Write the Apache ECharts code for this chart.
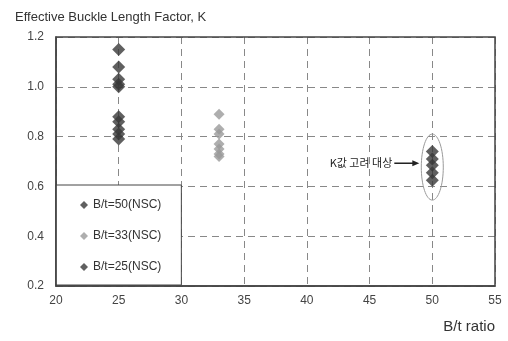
<!DOCTYPE html>
<html>
<head>
<meta charset="utf-8">
<script src="https://cdn.jsdelivr.net/npm/echarts@6/dist/echarts.min.js"></script>
<style>
  html, body { margin: 0; padding: 0; background: #fff; }
  #chart { width: 508px; height: 341px; }
</style>
</head>
<body>
<div id="chart"></div>
<script>
// B/t 별 유효좌굴길이계수 K
const bt50 = [0.74, 0.71, 0.685, 0.655, 0.625]
const bt33 = [0.89, 0.83, 0.81, 0.77, 0.75, 0.73, 0.72]
const bt25 = [1.15, 1.08, 1.03, 1.01, 1.0, 0.88, 0.86, 0.83, 0.81, 0.79]
const seriesNames = ['B/t=50(NSC)', 'B/t=33(NSC)', 'B/t=25(NSC)']
const noteText = 'K값 고려 대상'

const darkColor = '#383838'
const lightColor = '#9a9a9a'
const fontFamily = 'Liberation Sans, Arial, sans-serif'

const chartDom = document.getElementById('chart')
const chart = echarts.init(chartDom)

function toPoints(x, arr) {
  return arr.map(v => [x, v])
}

const dashed = { color: '#888', type: [7, 5], width: 1 }

chart.setOption({
  animation: false,
  textStyle: { fontFamily },
  title: {
    text: 'Effective Buckle Length Factor, K',
    left: 10,
    top: 6,
    textStyle: { fontSize: 13, fontWeight: 'normal', color: '#333', fontFamily },
  },
  grid: { left: 56, right: 13, top: 37, bottom: 55 },
  legend: {
    orient: 'vertical',
    left: 56,
    top: 185,
    padding: [14, 20, 12, 24],
    itemGap: 19,
    itemWidth: 8,
    itemHeight: 8,
    backgroundColor: '#fff',
    borderColor: '#444',
    borderWidth: 1,
    borderRadius: 0,
    textStyle: { fontSize: 12, color: '#333', fontFamily },
    data: seriesNames.map(n => ({ name: n, icon: 'diamond' })),
  },
  xAxis: {
    type: 'value',
    min: 20,
    max: 55,
    interval: 5,
    name: 'B/t ratio',
    nameLocation: 'end',
    nameGap: 0,
    nameTextStyle: {
      fontSize: 15, color: '#333', align: 'right', verticalAlign: 'top',
      padding: [33, 0, 0, 0],
    },
    axisLine: { lineStyle: { color: '#444', width: 1.5 } },
    axisTick: { show: false },
    axisLabel: { fontSize: 12, color: '#444', margin: 9 },
    splitLine: { show: true, lineStyle: dashed },
  },
  yAxis: {
    type: 'value',
    min: 0.2,
    max: 1.2,
    interval: 0.2,
    axisLine: { show: true, lineStyle: { color: '#444', width: 1.5 } },
    axisTick: { show: false },
    axisLabel: { fontSize: 12, color: '#444', margin: 12, formatter: v => v.toFixed(1) },
    splitLine: { show: true, lineStyle: dashed },
  },
  series: [
    {
      name: seriesNames[0],
      type: 'scatter',
      symbol: 'diamond',
      symbolSize: 13,
      itemStyle: { color: darkColor },
      data: toPoints(50, bt50),
      z: 5,
    },
    {
      name: seriesNames[1],
      type: 'scatter',
      symbol: 'diamond',
      symbolSize: 11,
      itemStyle: { color: lightColor },
      data: toPoints(33, bt33),
      z: 5,
    },
    {
      name: seriesNames[2],
      type: 'scatter',
      symbol: 'diamond',
      symbolSize: 13,
      itemStyle: { color: darkColor },
      data: toPoints(25, bt25),
      z: 5,
    },
  ],
})

// 상단/우측 테두리 + 타원, 주석 화살표
function drawExtras() {
  const tl = chart.convertToPixel({ gridIndex: 0 }, [20, 1.2])
  const br = chart.convertToPixel({ gridIndex: 0 }, [55, 0.2])
  const top = chart.convertToPixel({ gridIndex: 0 }, [50, Math.max(...bt50) + 0.07])
  const bottom = chart.convertToPixel({ gridIndex: 0 }, [50, Math.min(...bt50) - 0.08])
  const mid = chart.convertToPixel({ gridIndex: 0 }, [50, 0.685])

  chart.setOption({
    graphic: [
      {
        type: 'rect',
        silent: true,
        shape: { x: tl[0], y: tl[1], width: br[0] - tl[0], height: br[1] - tl[1] },
        style: { fill: 'none', stroke: '#444', lineWidth: 1.5 },
        z: 10,
      },
      {
        type: 'ellipse',
        silent: true,
        shape: { cx: top[0], cy: (top[1] + bottom[1]) / 2, rx: 11, ry: (bottom[1] - top[1]) / 2 },
        style: { fill: 'none', stroke: '#999', lineWidth: 1 },
        z: 10,
      },
      {
        type: 'line',
        silent: true,
        shape: { x1: mid[0] - 38, y1: mid[1] - 2, x2: mid[0] - 18, y2: mid[1] - 2 },
        style: { stroke: '#222', lineWidth: 1.5 },
        z: 10,
      },
      {
        type: 'polygon',
        silent: true,
        shape: { points: [[mid[0] - 13, mid[1] - 2], [mid[0] - 20, mid[1] - 5], [mid[0] - 20, mid[1] + 1]] },
        style: { fill: '#222' },
        z: 10,
      },
      {
        type: 'text',
        silent: true,
        x: mid[0] - 40,
        y: mid[1] - 2,
        style: {
          text: noteText,
          fontSize: 11,
          fill: '#222',
          align: 'right',
          verticalAlign: 'middle',
          fontFamily: 'Noto Sans CJK KR, sans-serif',
        },
        z: 10,
      },
    ],
  })
}

drawExtras()
</script>
</body>
</html>
